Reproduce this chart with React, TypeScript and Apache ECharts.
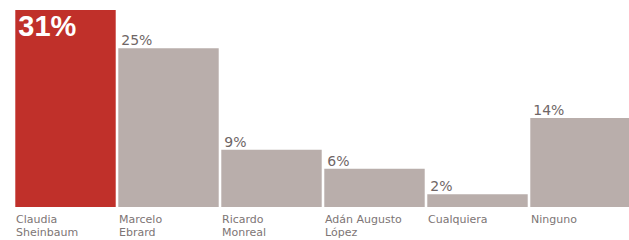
import React, { useEffect, useRef } from "react";
import * as echarts from "echarts";

const categories = ["Claudia\nSheinbaum", "Marcelo\nEbrard", "Ricardo\nMonreal", "Adán Augusto\nLópez", "Cualquiera", "Ninguno"];
const values = [31, 25, 9, 6, 2, 14];
const highlightIndex = 0;

export default function App() {
  const ref = useRef<HTMLDivElement>(null);
  useEffect(() => {
    document.body.style.margin = "0";
    const chart = echarts.init(ref.current!, null, { renderer: "svg" });
    chart.setOption({
      animation: false,
      backgroundColor: "#ffffff",
      grid: { left: 14, width: 618, top: 10, bottom: 33, outerBoundsMode: "none", containLabel: false },
      xAxis: [
        {
          type: "category",
          data: categories,
          boundaryGap: true,
          axisLine: { show: false },
          axisTick: { show: false },
          axisLabel: { show: false },
        },
        {
          type: "category",
          data: [...categories, ""],
          boundaryGap: false,
          position: "bottom",
          axisLine: { show: false },
          axisTick: { show: false },
          axisLabel: {
            show: true,
            interval: 0,
            align: "left",
            verticalAlign: "top",
            margin: 6,
            padding: [0, 0, 0, 2],
            fontFamily: "DejaVu Sans",
            fontSize: 11,
            lineHeight: 13,
            color: "#7d7575",
          },
        },
      ],
      yAxis: {
        type: "value",
        min: 0,
        max: 31,
        show: false,
        splitLine: { show: false },
      },
      series: [
        {
          type: "bar",
          xAxisIndex: 0,
          barCategoryGap: "2.5%",
          data: values.map((v, i) => ({
            value: v,
            itemStyle: { color: i === highlightIndex ? "#c0302a" : "#b9aeab" },
            label:
              i === highlightIndex
                ? {
                    show: true,
                    position: [3, 1],
                    align: "left",
                    verticalAlign: "top",
                    fontFamily: "Liberation Sans",
                    fontWeight: "bold",
                    fontSize: 29,
                    color: "#ffffff",
                    formatter: "{c}%",
                  }
                : {
                    show: true,
                    position: [3, -1],
                    align: "left",
                    verticalAlign: "bottom",
                    fontFamily: "DejaVu Sans",
                    fontSize: 14,
                    color: "#6f6666",
                    formatter: "{c}%",
                  },
          })),
        },
      ],
    });
    return () => chart.dispose();
  }, []);
  return <div ref={ref} style={{ position: "absolute", left: 0, top: 0, width: 629, height: 240 }} />;
}
